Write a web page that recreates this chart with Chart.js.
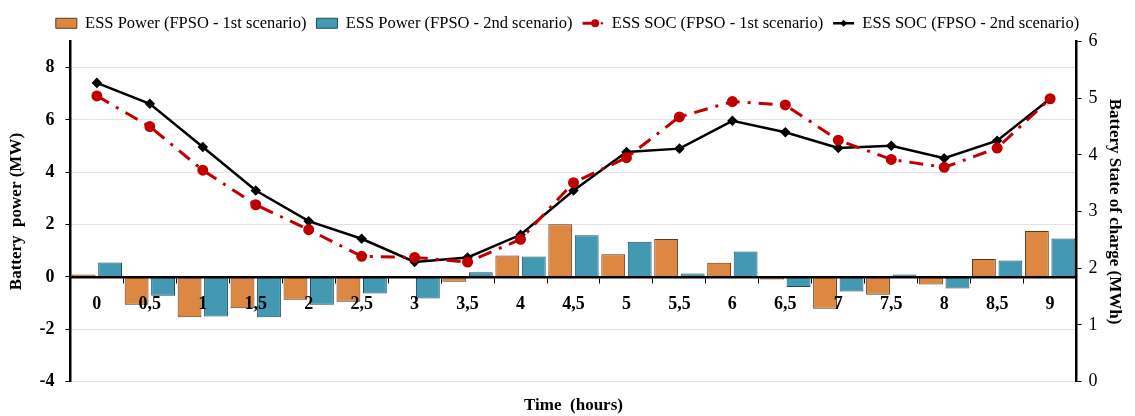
<!DOCTYPE html>
<html>
<head>
<meta charset="utf-8">
<script src="https://cdn.jsdelivr.net/npm/chart.js@4.4.1/dist/chart.umd.min.js"></script>
<style>
  html, body { margin: 0; padding: 0; background: #fff; }
  #wrap { width: 1135px; height: 416px; }
</style>
</head>
<body>
<div id="wrap"><canvas id="essChart"></canvas></div>
<script>
const timeLabels = ['0', '0,5', '1', '1,5', '2', '2,5', '3', '3,5', '4', '4,5', '5', '5,5', '6', '6,5', '7', '7,5', '8', '8,5', '9'];

// battery power (MW), left axis
const powerScen1 = [0.09, -1.06, -1.54, -1.2, -0.87, -0.95, 0, -0.18, 0.82, 2.01, 0.87, 1.45, 0.54, -0.1, -1.22, -0.68, -0.29, 0.69, 1.76];
const powerScen2 = [0.55, -0.72, -1.51, -1.54, -1.06, -0.63, -0.82, 0.18, 0.78, 1.59, 1.35, 0.13, 0.97, -0.38, -0.56, 0.09, -0.44, 0.63, 1.47];

// state of charge (MWh), right axis
const socScen1 = [5.04, 4.5, 3.73, 3.12, 2.68, 2.21, 2.19, 2.11, 2.51, 3.51, 3.95, 4.67, 4.94, 4.88, 4.26, 3.92, 3.78, 4.12, 4.99];
const socScen2 = [5.27, 4.9, 4.14, 3.37, 2.83, 2.52, 2.11, 2.19, 2.59, 3.37, 4.05, 4.11, 4.6, 4.4, 4.12, 4.16, 3.94, 4.25, 4.99];

const serif = "'Liberation Serif', 'Times New Roman', serif";

// draws line + marker symbols for the SOC entries of the legend
const legendLines = {
    id: 'legendLines',
    afterDraw(chart) {
        const legend = chart.legend;
        if (!legend || !legend.legendHitBoxes) return;
        const ctx = chart.ctx;
        const boxW = legend.options.labels.boxWidth;
        legend.legendItems.forEach((item, i) => {
            const ds = chart.data.datasets[item.datasetIndex];
            if (ds.type !== 'line') return;
            const hb = legend.legendHitBoxes[i];
            const cy = hb.top + hb.height / 2;
            const dashed = ds.borderDash && ds.borderDash.length;
            ctx.save();
            ctx.strokeStyle = ds.borderColor;
            ctx.lineWidth = ds.borderWidth;
            ctx.beginPath();
            ctx.moveTo(hb.left, cy);
            ctx.lineTo(hb.left + boxW * (dashed ? 0.7 : 1), cy);
            ctx.stroke();
            ctx.fillStyle = ds.pointBackgroundColor;
            const cx = hb.left + boxW * (dashed ? 0.6 : 0.5);
            const r = ds.pointRadius;
            ctx.beginPath();
            if (ds.pointStyle === 'rectRot') {
                ctx.moveTo(cx, cy - r); ctx.lineTo(cx + r, cy); ctx.lineTo(cx, cy + r); ctx.lineTo(cx - r, cy);
                ctx.closePath();
            } else {
                ctx.arc(cx, cy, r, 0, Math.PI * 2);
            }
            ctx.fill();
            if (dashed) {
                ctx.beginPath();
                ctx.arc(hb.left + boxW * 0.92, cy, 1.2, 0, Math.PI * 2);
                ctx.fill();
            }
            ctx.restore();
        });
    }
};

const ctx = document.getElementById('essChart').getContext('2d');
new Chart(ctx, {
    data: {
        labels: timeLabels,
        datasets: [
            {
                type: 'bar',
                label: 'ESS Power (FPSO - 1st scenario)',
                data: powerScen1,
                backgroundColor: '#DD8842',
                borderColor: '#5b3a22',
                borderWidth: 1,
                yAxisID: 'y',
                order: 2,
                barPercentage: 0.9,
                categoryPercentage: 1.0
            },
            {
                type: 'bar',
                label: 'ESS Power (FPSO - 2nd scenario)',
                data: powerScen2,
                backgroundColor: '#4399B1',
                borderColor: '#1f4d5a',
                borderWidth: 1,
                yAxisID: 'y',
                order: 2,
                barPercentage: 0.9,
                categoryPercentage: 1.0
            },
            {
                type: 'line',
                label: 'ESS SOC (FPSO - 1st scenario)',
                data: socScen1,
                borderColor: '#C00000',
                backgroundColor: '#C00000',
                pointBackgroundColor: '#C00000',
                pointBorderColor: '#C00000',
                borderWidth: 3,
                borderDash: [14, 8, 3, 8],
                pointStyle: 'circle',
                pointRadius: 4,
                tension: 0,
                yAxisID: 'y1',
                order: 1
            },
            {
                type: 'line',
                label: 'ESS SOC (FPSO - 2nd scenario)',
                data: socScen2,
                borderColor: '#000000',
                backgroundColor: '#000000',
                pointBackgroundColor: '#000000',
                pointBorderColor: '#000000',
                borderWidth: 2.5,
                pointStyle: 'rectRot',
                pointRadius: 3.5,
                tension: 0,
                yAxisID: 'y1',
                order: 1
            }
        ]
    },
    options: {
        responsive: true,
        maintainAspectRatio: false,
        animation: false,
        layout: { padding: { left: 6, right: 6, top: 5, bottom: 0 } },
        plugins: {
            tooltip: { enabled: false },
            legend: {
                position: 'top',
                labels: {
                    font: { family: serif, size: 16.5 },
                    color: '#000',
                    boxWidth: 21,
                    boxHeight: 10,
                    padding: 10,
                    sort: (a, b) => a.datasetIndex - b.datasetIndex,
                    generateLabels: (chart) => {
                        const items = Chart.defaults.plugins.legend.labels.generateLabels(chart);
                        items.forEach(it => {
                            if (chart.data.datasets[it.datasetIndex].type === 'line') {
                                it.fillStyle = 'rgba(0,0,0,0)';
                                it.strokeStyle = 'rgba(0,0,0,0)';
                                it.lineWidth = 0;
                                it.lineDash = [];
                            }
                        });
                        return items;
                    }
                }
            }
        },
        scales: {
            x: {
                type: 'category',
                position: { y: 0 },
                offset: true,
                grid: { display: true, drawOnChartArea: false, tickLength: 5, color: '#000', offset: true, z: 1 },
                border: { display: true, color: '#000', width: 2.5, z: 1 },
                ticks: { font: { family: serif, size: 18, weight: 'bold' }, color: '#000', padding: 12, maxRotation: 0, autoSkip: false, z: 1 }
            },
            xTitle: {
                type: 'category',
                position: 'bottom',
                labels: timeLabels,
                grid: { display: false },
                border: { display: false },
                ticks: { display: false },
                title: { display: true, text: 'Time  (hours)', font: { family: serif, size: 17, weight: 'bold' }, color: '#000', padding: { top: 6, bottom: 0 } }
            },
            y: {
                position: 'left',
                min: -4,
                max: 9,
                afterBuildTicks: (scale) => { scale.ticks = scale.ticks.filter(t => t.value <= 8); },
                ticks: { stepSize: 2, font: { family: serif, size: 18, weight: 'bold' }, color: '#000', padding: 11 },
                grid: { color: '#e3e3e3', tickLength: 5, tickColor: '#000' },
                border: { display: true, color: '#000', width: 2.5 },
                title: { display: true, text: 'Battery  power (MW)', font: { family: serif, size: 17, weight: 'bold' }, color: '#000', padding: { top: 0, bottom: 2 } }
            },
            y1: {
                position: 'right',
                min: 0,
                max: 6,
                ticks: { stepSize: 1, font: { family: serif, size: 18 }, color: '#000', padding: 7 },
                grid: { drawOnChartArea: false, tickLength: 5, color: '#000' },
                border: { display: true, color: '#000', width: 2.5 },
                title: { display: true, text: 'Battery State of charge (MWh)', font: { family: serif, size: 17, weight: 'bold' }, color: '#000', padding: { top: 4, bottom: 0 } }
            }
        }
    },
    plugins: [legendLines]
});
</script>
</body>
</html>
